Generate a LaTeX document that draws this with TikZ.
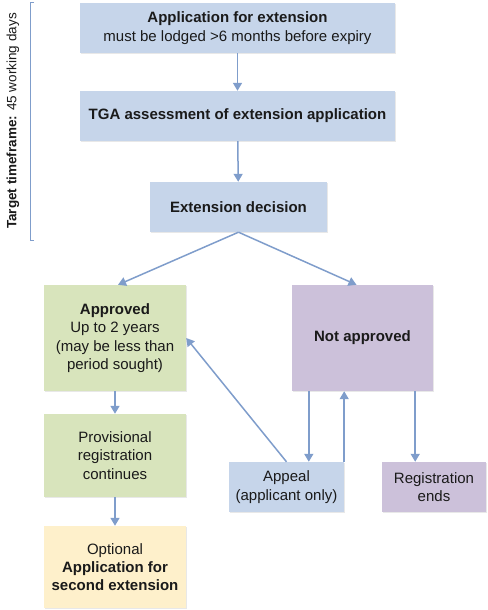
\documentclass[tikz,border=0pt]{standalone}
\usepackage{fontspec}
\setmainfont{Liberation Sans}
\usetikzlibrary{arrows.meta,shadows,calc}
\definecolor{boxblue}{HTML}{C6D5EA}
\definecolor{boxgreen}{HTML}{D8E4BC}
\definecolor{boxpurple}{HTML}{CCC1DA}
\definecolor{boxyellow}{HTML}{FEF0CB}
\definecolor{arrowc}{HTML}{7F9DCB}
\definecolor{textc}{HTML}{1A1A1A}
\begin{document}
\begin{tikzpicture}[x=1pt,y=-1pt,
  font=\fontsize{15pt}{18.3pt}\selectfont, text=textc,
  box/.style={rectangle, draw=none, align=center, inner sep=2pt,
    drop shadow={shadow xshift=1.2pt, shadow yshift=-1.2pt, opacity=0.18}},
  conn/.style={draw=arrowc, line width=1.5pt, -{Triangle[length=8pt,width=9pt]}},
]
\useasboundingbox (0,0) rectangle (487,610);
\node[box, fill=boxblue, minimum width=315pt, minimum height=50pt] (app) at (237.5,28)
  {\textbf{Application for extension}\\must be lodged >6 months before expiry};
\node[box, fill=boxblue, minimum width=315pt, minimum height=50pt] (tga) at (237.5,116)
  {\textbf{TGA assessment of extension application}};
\node[box, fill=boxblue, minimum width=177pt, minimum height=50pt] (dec) at (238.5,207)
  {\textbf{Extension decision}};
\node[box, fill=boxgreen, minimum width=142pt, minimum height=106pt] (appr) at (115,338)
  {\textbf{Approved}\\Up to 2 years\\(may be less than\\period sought)};
\node[box, fill=boxpurple, minimum width=141pt, minimum height=106pt] (notapp) at (362.5,338)
  {\textbf{Not approved}};
\node[box, fill=boxgreen, minimum width=142pt, minimum height=83pt] (prov) at (115,455.5)
  {Provisional\\registration\\continues};
\node[box, fill=boxyellow, minimum width=142pt, minimum height=82pt] (opt) at (115,567)
  {Optional\\\textbf{Application for}\\\textbf{second extension}};
\node[box, fill=boxblue, minimum width=115pt, minimum height=50pt] (appeal) at (286.5,487)
  {Appeal\\(applicant only)};
\node[box, fill=boxpurple, minimum width=104pt, minimum height=50pt] (regend) at (434,487)
  {Registration\\ends};

\coordinate (bt) at (34,3);
\coordinate (bb) at (34,240);
\draw[arrowc, line width=1pt] (bt) -- ++(-4,0) -- ($(bb)+(-4,0)$) -- (bb);
\node[rotate=90, font=\fontsize{13.5pt}{16pt}\selectfont] (tf) at (13,121)
  {\textbf{Target timeframe:} 45 working days};

\draw[conn] (app) -- (tga);
\draw[conn] (tga) -- (dec);
\draw[conn] (dec.south) -- ($(appr.north)+(3,0)$);
\draw[conn] (dec.south) -- ($(notapp.north)+(-6,0)$);
\draw[conn] (appr) -- (prov);
\draw[conn] (prov) -- (opt);
\draw[conn] (appeal.north) -- (appr.east);
\draw[conn] ([xshift=17pt]notapp.south west) -- ([xshift=17pt]notapp.south west |- appeal.north);
\draw[conn] (appeal.north east) -- (appeal.north east |- notapp.south);
\draw[conn] ([xshift=-18pt]notapp.south east) -- ([xshift=-18pt]notapp.south east |- regend.north);
\end{tikzpicture}
\end{document}
